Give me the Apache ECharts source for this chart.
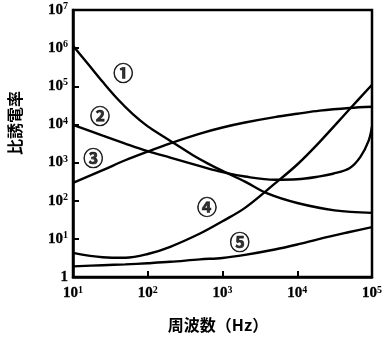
<!DOCTYPE html>
<html>
<head>
<meta charset="utf-8">
<script src="https://cdn.jsdelivr.net/npm/echarts@6/dist/echarts.min.js"></script>
<style>
  html, body { margin: 0; padding: 0; background: #fff; }
  #chart { width: 391px; height: 337px; }
</style>
</head>
<body>
<div id="chart"></div>
<script>
// Frequency sample points (Hz)
const freq = [10, 25, 50, 100, 200, 500, 1000, 2000, 5000, 1e4, 2e4, 5e4, 1e5];
const freq1 = [10, 15.8, 25.1, 39.8, 63.1, 100, 158, 251, 398, 631, 1000, 2000, 3980, 1e4, 31600, 1e5];
const freq2 = [10, 25, 50, 100, 200, 500, 1000, 2000, 5000, 1e4, 2e4, 3e4, 5e4, 7e4, 9e4, 1e5];

// Relative permittivity of each material
const curve1 = [1.15e6, 3.9e5, 1.29e5, 4.57e4, 1.86e4, 8.9e3, 5.0e3, 2.82e3, 1.58e3, 955, 603, 316, 155, 87, 56, 48];
const curve2 = [9.8e3, 5.1e3, 3.16e3, 2.0e3, 1.35e3, 810, 560, 430, 355, 365, 435, 510, 710, 1.41e3, 3.7e3, 8.9e3];
const curve3 = [295, 630, 1.15e3, 1.95e3, 3.2e3, 5.75e3, 8.3e3, 1.12e4, 1.55e4, 1.9e4, 2.3e4, 2.7e4, 2.9e4];
const curve4 = [4.3, 3.3, 3.2, 4.0, 6.2, 13.8, 29, 65, 280, 890, 3.5e3, 2.5e4, 1.1e5];
const curve5 = [1.9, 2.04, 2.14, 2.3, 2.5, 2.9, 3.16, 3.8, 5.25, 7.1, 10, 15.1, 20.4];

// Curve tags and where they sit
const tagText = ['①', '②', '③', '④', '⑤'];
const tagX = [47, 23, 18.6, 620, 1700];
const tagY = [2.2e5, 1.6e4, 1.26e3, 65, 8.3];

const pair = (xs, ys) => xs.map((x, i) => [x, ys[i]]);

const serif = '"Liberation Serif", "DejaVu Serif", serif';
const cjk = '"Noto Sans CJK JP", "Noto Sans CJK SC", sans-serif';

function powLabel(v) {
  const e = Math.round(Math.log10(v));
  if (e === 0) return '{a|1}';
  return '{a|10}{s|' + e + '}';
}
const tickRich = {
  a: { fontFamily: serif, fontWeight: 'bold', fontSize: 15, color: '#000', textBorderColor: '#000', textBorderWidth: 0.3 },
  s: { fontFamily: serif, fontWeight: 'bold', fontSize: 10, color: '#000', padding: [0, 0, 7, 0] }
};

const lineStyle = { color: '#000', width: 2.4 };
function curve(data) {
  return {
    type: 'line', data: data, smooth: 0.35, showSymbol: false, symbol: 'none',
    lineStyle: lineStyle, silent: true, z: 3
  };
}

const chart = echarts.init(document.getElementById('chart'), null, { renderer: 'canvas' });
chart.setOption({
  animation: false,
  backgroundColor: '#fff',
  grid: { left: 73, top: 10, right: 19, bottom: 60, show: true, borderColor: '#000', borderWidth: 2.5, backgroundColor: 'transparent' },
  xAxis: {
    type: 'log', logBase: 10, min: 10, max: 1e5,
    axisLine: { show: true, lineStyle: { color: '#000', width: 2.5 } },
    axisTick: { show: true, inside: true, length: 6, lineStyle: { color: '#000', width: 2 } },
    minorTick: { show: false },
    splitLine: { show: false },
    axisLabel: { margin: 8, formatter: powLabel, rich: tickRich }
  },
  yAxis: {
    type: 'log', logBase: 10, min: 1, max: 1e7,
    axisLine: { show: true, lineStyle: { color: '#000', width: 2.5 } },
    axisTick: { show: true, inside: true, length: 6, lineStyle: { color: '#000', width: 2 } },
    splitLine: { show: false },
    axisLabel: { margin: 5, formatter: powLabel, rich: tickRich }
  },
  series: [
    curve(pair(freq1, curve1)),
    curve(pair(freq2, curve2)),
    curve(pair(freq, curve3)),
    curve(pair(freq, curve4)),
    curve(pair(freq, curve5)),
    {
      type: 'scatter', symbolSize: 0, silent: true, z: 4,
      data: tagX.map((x, i) => ({ value: [x, tagY[i]], name: tagText[i] })),
      label: {
        show: true, position: 'inside', formatter: p => p.name,
        fontFamily: cjk, fontSize: 20, fontWeight: 'bold', color: '#000',
        textBorderColor: '#000', textBorderWidth: 0.7
      }
    }
  ],
  graphic: [
    {
      type: 'text', x: 15, y: 123, rotation: Math.PI / 2,
      style: { text: '比誘電率', font: 'bold 16px ' + cjk, fill: '#000', textAlign: 'center', textVerticalAlign: 'middle' }
    },
    {
      type: 'text', x: 218, y: 325,
      style: { text: '周波数（Hz）', font: 'bold 16px ' + cjk, fill: '#000', textAlign: 'center', textVerticalAlign: 'middle' }
    }
  ]
});
</script>
</body>
</html>
